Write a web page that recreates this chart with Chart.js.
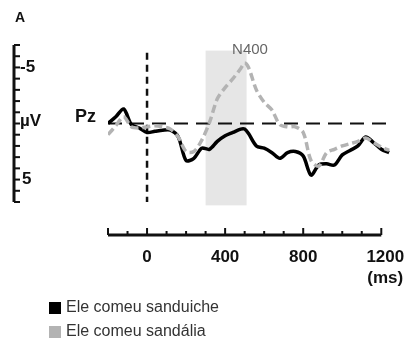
<!DOCTYPE html>
<html>
<head>
<meta charset="utf-8">
<script src="https://cdn.jsdelivr.net/npm/chart.js@4"></script>
<style>
  html, body { margin: 0; padding: 0; background: #fff; }
  #wrap { width: 408px; height: 340px; }
</style>
</head>
<body>
<div id="wrap"><canvas id="erp" width="408" height="340"></canvas></div>
<script>
// time points (ms) shared by both waves
const times = [-200, -160, -120, -80, -40, 0, 40, 80, 120, 160, 200, 240, 280, 320, 360, 400, 440, 480, 500, 520,
    560, 600, 640, 680, 720, 760, 800, 840, 880, 920, 960, 1000, 1040, 1080, 1120, 1160, 1200, 1240];

// amplitude in µV (negative is drawn up)
const sanduiche = [0.0, -0.6, -1.3, 0.1, 0.4, 0.8, 0.7, 0.6, 0.6, 1.2, 3.3, 3.1, 2.2, 2.3, 1.6, 1.1, 0.8, 0.5, 0.5, 0.9,
    2.0, 2.2, 2.6, 3.1, 2.6, 2.5, 2.9, 4.6, 3.7, 3.6, 3.7, 2.8, 2.4, 2.0, 1.2, 1.7, 2.3, 2.6];
const sandalia = [1.0, 0.2, -0.6, 0.3, 0.4, 0.3, 0.2, 0.3, 0.5, 1.2, 2.5, 2.5, 1.5, -0.1, -2.2, -3.2, -4.0, -4.9, -5.4, -5.0,
    -3.0, -1.9, -1.2, 0.1, 0.3, 0.3, 0.8, 3.3, 3.8, 2.6, 2.3, 2.0, 1.8, 1.6, 1.3, 1.7, 2.1, 2.4];

const seriesNames = ['Ele comeu sanduiche', 'Ele comeu sandália'];
const xTickLabels = [0, 400, 800, 1200];
const yTickLabels = [-5, 0, 5];
const n400Window = [300, 510];

const FONT = '"Liberation Sans", Arial, sans-serif';

const toPoints = (vals) => vals.map((v, i) => ({ x: times[i], y: v }));

const decor = {
    id: 'decor',
    beforeDatasetsDraw(chart) {
        const { ctx, scales: { x, y } } = chart;
        ctx.save();
        // N400 window
        ctx.fillStyle = '#e6e6e6';
        const x0 = x.getPixelForValue(n400Window[0]);
        const x1 = x.getPixelForValue(n400Window[1]);
        const yt = y.getPixelForValue(-6.5);
        const yb = y.getPixelForValue(7.3);
        ctx.fillRect(x0, yt, x1 - x0, yb - yt);

        // zero line
        ctx.strokeStyle = '#111';
        ctx.lineWidth = 2;
        ctx.setLineDash([14, 8]);
        ctx.beginPath();
        ctx.moveTo(x.left, y.getPixelForValue(0));
        ctx.lineTo(x.right, y.getPixelForValue(0));
        ctx.stroke();

        // stimulus onset
        ctx.lineWidth = 2.5;
        ctx.setLineDash([7, 5]);
        ctx.beginPath();
        ctx.moveTo(x.getPixelForValue(0), y.getPixelForValue(-6.3));
        ctx.lineTo(x.getPixelForValue(0), y.getPixelForValue(7));
        ctx.stroke();
        ctx.restore();
    },
    afterDraw(chart) {
        const { ctx, scales: { x, y } } = chart;
        ctx.save();
        ctx.strokeStyle = '#111';
        ctx.fillStyle = '#111';
        ctx.setLineDash([]);

        // y axis (µV)
        const ax = 14;
        ctx.lineWidth = 3;
        ctx.beginPath();
        ctx.moveTo(ax, y.getPixelForValue(-7));
        ctx.lineTo(ax, y.getPixelForValue(7));
        ctx.stroke();
        ctx.lineWidth = 2;
        for (let v = -7; v <= 7; v++) {
            const py = y.getPixelForValue(v);
            ctx.beginPath();
            ctx.moveTo(ax, py);
            ctx.lineTo(ax + 6, py);
            ctx.stroke();
        }
        ctx.font = 'bold 17px ' + FONT;
        ctx.textBaseline = 'middle';
        ctx.textAlign = 'left';
        yTickLabels.forEach(v => {
            const txt = v === 0 ? 'µV' : String(v);
            ctx.fillText(txt, v === 5 ? 22 : 20, y.getPixelForValue(v) - (v === 0 ? 2 : 0));
        });
        ctx.font = 'bold 18px ' + FONT;
        ctx.fillText('Pz', 75, y.getPixelForValue(0) - 6);

        // panel letter
        ctx.font = 'bold 14px ' + FONT;
        ctx.fillText('A', 15, 18);

        // x axis (ms)
        const axY = 235;
        ctx.lineWidth = 3;
        ctx.beginPath();
        ctx.moveTo(x.getPixelForValue(-200), axY);
        ctx.lineTo(x.getPixelForValue(1200), axY);
        ctx.stroke();
        ctx.lineWidth = 2;
        for (let t = -200; t <= 1200; t += 100) {
            const px = x.getPixelForValue(t);
            const major = t === -200 || t % 400 === 0;
            ctx.beginPath();
            ctx.moveTo(px, axY);
            ctx.lineTo(px, axY - (major ? 7 : 4));
            ctx.stroke();
        }
        ctx.font = 'bold 17px ' + FONT;
        ctx.textAlign = 'center';
        xTickLabels.forEach(t => ctx.fillText(String(t), x.getPixelForValue(t) + (t === 1200 ? 4 : 0), 257));
        ctx.fillText('(ms)', x.getPixelForValue(1200) + 4, 278);

        // legend
        ctx.font = '16px ' + FONT;
        ctx.textAlign = 'left';
        const colors = ['#000', '#b3b3b3'];
        seriesNames.forEach((name, i) => {
            const ly = 308 + i * 24;
            ctx.fillStyle = colors[i];
            ctx.fillRect(49, ly - 6, 12, 12);
            ctx.fillStyle = '#333';
            ctx.fillText(name, 66, ly);
        });

        // N400 label
        ctx.fillStyle = '#666';
        ctx.font = '15px ' + FONT;
        ctx.textAlign = 'center';
        ctx.fillText('N400', 250, 50);
        ctx.restore();
    }
};

new Chart(document.getElementById('erp'), {
    type: 'line',
    data: {
        datasets: [{
            label: seriesNames[1],
            data: toPoints(sandalia),
            borderColor: '#b3b3b3',
            borderWidth: 3.5,
            borderDash: [8, 4],
            pointRadius: 0,
            tension: 0.3,
            fill: false
        }, {
            label: seriesNames[0],
            data: toPoints(sanduiche),
            borderColor: '#000',
            borderWidth: 3.5,
            pointRadius: 0,
            tension: 0.3,
            fill: false
        }]
    },
    options: {
        responsive: false,
        animation: false,
        layout: { padding: { left: 108, right: 15, top: 45, bottom: 138 } },
        plugins: { legend: { display: false }, tooltip: { enabled: false } },
        scales: {
            x: { type: 'linear', min: -200, max: 1260, display: false },
            y: { min: -7, max: 7, reverse: true, display: false }
        }
    },
    plugins: [decor]
});
</script>
</body>
</html>
